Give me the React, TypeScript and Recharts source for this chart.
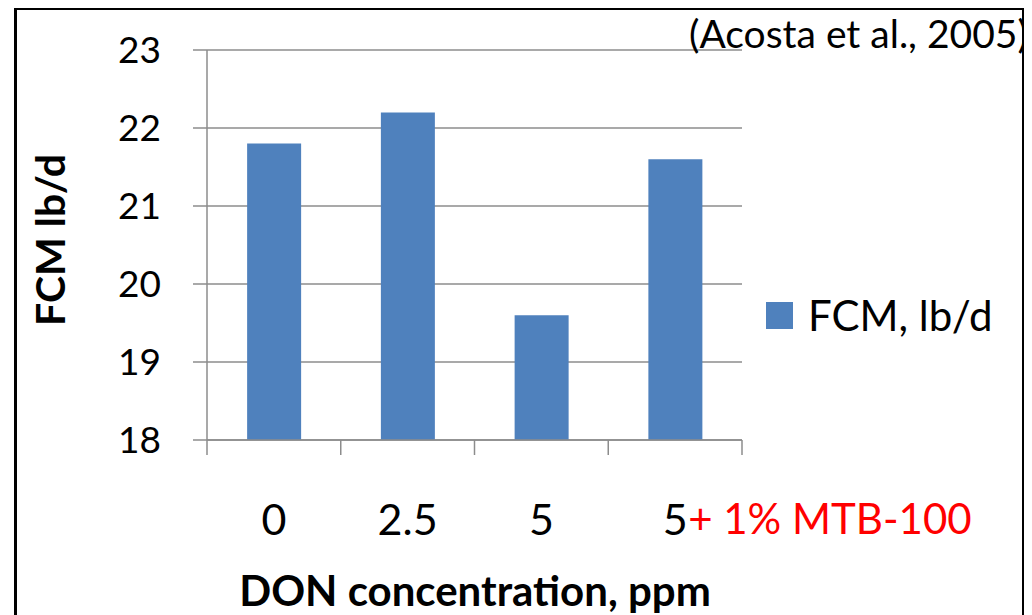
import { BarChart, Bar, XAxis, YAxis, CartesianGrid } from "recharts";

const categories = ["0", "2.5", "5", "5"];
const fcmValues = [21.8, 22.2, 19.6, 21.6];
const yTicks = [18, 19, 20, 21, 22, 23];
const lastNote = "+ 1% MTB-100";
const seriesName = "FCM, lb/d";

const data = categories.map((c, i) => ({ dose: c, key: `${c}-${i}`, fcm: fcmValues[i] }));

const FONT = "Lato, 'Open Sans', sans-serif";
const GRID = "#8c8c8c";
const BAR = "#4f81bd";

function DoseTick(props: any) {
  const { x, y, payload, index, width } = props;
  const half = width / categories.length / 2;
  const isLast = index === categories.length - 1;
  return (
    <g>
      <line x1={x - half} x2={x - half} y1={y} y2={y + 15} stroke={GRID} strokeWidth={1.5} />
      {isLast && <line x1={x + half} x2={x + half} y1={y} y2={y + 15} stroke={GRID} strokeWidth={1.5} />}
      <text x={x} y={y + 78} textAnchor="middle" dominantBaseline="central" fontSize={43} fontFamily={FONT} fill="#000">
        {categories[index] ?? payload.value}
      </text>
      {isLast && (
        <text x={x + 13} y={y + 78} textAnchor="start" dominantBaseline="central" fontSize={42} fontFamily={FONT} fill="#ff0000">
          {lastNote}
        </text>
      )}
    </g>
  );
}

export default function App() {
  return (
    <div style={{ position: "relative", width: 1032, height: 615, margin: "-8px 0 0 -8px", overflow: "hidden", background: "#fff" }}>
      <div style={{ position: "absolute", left: 14, top: 7, width: 1005, height: 640, border: "3px solid #000" }} />
      <BarChart
        width={1032}
        height={615}
        data={data}
        margin={{ top: 50, right: 290, bottom: 115, left: 0 }}
        barCategoryGap="30%"
        style={{ position: "absolute", left: 0, top: 0 }}
      >
        <CartesianGrid vertical={false} stroke={GRID} strokeWidth={1.5} />
        <XAxis
          dataKey="key"
          height={60}
          tick={<DoseTick />}
          tickLine={false}
          tickSize={0}
          tickMargin={0}
          axisLine={{ stroke: GRID, strokeWidth: 1.5 }}
          interval={0}
        />
        <YAxis
          width={207}
          domain={[18, 23]}
          ticks={yTicks}
          interval={0}
          tickSize={14}
          tickMargin={32}
          tickLine={{ stroke: GRID, strokeWidth: 1.5 }}
          axisLine={{ stroke: GRID, strokeWidth: 1.5 }}
          tick={{ fill: "#000", fontSize: 37, fontFamily: FONT }}
        />
        <Bar dataKey="fcm" name={seriesName} fill={BAR} isAnimationActive={false} />
      </BarChart>

      {/* legend */}
      <div
        style={{
          position: "absolute",
          left: 766,
          top: 315,
          transform: "translateY(-50%)",
          display: "flex",
          alignItems: "center",
          fontFamily: FONT,
          fontSize: 42,
          color: "#000",
          whiteSpace: "nowrap",
        }}
      >
        <span style={{ width: 27, height: 27, background: BAR, marginRight: 15, display: "inline-block" }} />
        <span>{seriesName}</span>
      </div>

      <div style={{ position: "absolute", left: 689, top: 10, fontFamily: FONT, fontSize: 39, color: "#000", whiteSpace: "nowrap" }}>
        (Acosta et al., 2005)
      </div>
      <div
        style={{
          position: "absolute",
          left: 49,
          top: 240,
          transform: "translate(-50%, -50%) rotate(-90deg)",
          fontFamily: FONT,
          fontWeight: 700,
          fontSize: 41,
          whiteSpace: "nowrap",
          color: "#000",
        }}
      >
        FCM lb/d
      </div>
      <div
        style={{
          position: "absolute",
          left: 475,
          top: 590,
          transform: "translate(-50%, -50%)",
          fontFamily: FONT,
          fontWeight: 700,
          fontSize: 42,
          whiteSpace: "nowrap",
          color: "#000",
        }}
      >
        DON concentration, ppm
      </div>
    </div>
  );
}
